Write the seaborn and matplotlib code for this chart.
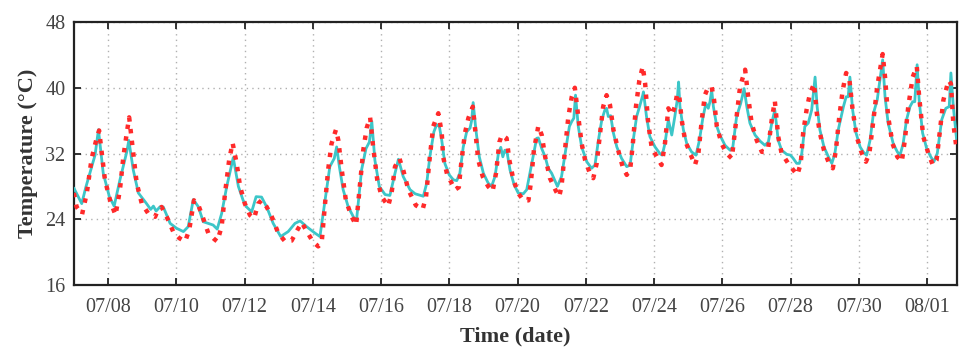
import numpy as np
import pandas as pd
import matplotlib
matplotlib.use("Agg")
import matplotlib.pyplot as plt
import matplotlib.dates as mdates
import seaborn as sns

# ---- data (days since 07/07 00:00, temperature in degC) ----
start_date = "2023-07-07"

sim_days = [0.00, 0.23, 0.35, 0.62, 0.72, 0.86, 1.04, 1.18, 1.35, 1.55, 1.61, 1.74, 1.89,
            2.13, 2.25, 2.33, 2.41, 2.52, 2.62, 2.82, 3.01, 3.21, 3.35, 3.50, 3.65, 3.79,
            4.08, 4.20, 4.33, 4.48, 4.67, 4.82, 4.96, 5.06, 5.21, 5.34, 5.50, 5.65, 5.84,
            6.06, 6.28, 6.48, 6.63, 6.82, 7.07, 7.21, 7.36, 7.50, 7.63, 7.70, 7.78, 7.89,
            8.04, 8.24, 8.29, 8.43, 8.56, 8.66, 8.73, 8.82, 8.95, 9.12, 9.26, 9.41, 9.51,
            9.65, 9.85, 10.00, 10.24, 10.34, 10.43, 10.55, 10.63, 10.71, 10.78, 10.87,
            11.00, 11.12, 11.22, 11.31, 11.41, 11.51, 11.61, 11.66, 11.70, 11.78, 11.88,
            12.00, 12.14, 12.24, 12.34, 12.44, 12.51, 12.57, 12.63, 12.70, 12.78, 12.90,
            13.02, 13.17, 13.27, 13.42, 13.56, 13.61, 13.71, 13.81, 13.90, 14.00, 14.17,
            14.29, 14.44, 14.52, 14.59, 14.65, 14.70, 14.78, 14.88, 15.03, 15.12, 15.17,
            15.27, 15.37, 15.47, 15.56, 15.61, 15.66, 15.73, 15.81, 15.91, 16.05, 16.20,
            16.30, 16.39, 16.49, 16.59, 16.67, 16.69, 16.78, 16.88, 17.03, 17.17, 17.24,
            17.32, 17.42, 17.52, 17.61, 17.68, 17.72, 17.76, 17.86, 17.96, 18.10, 18.23,
            18.33, 18.43, 18.52, 18.59, 18.64, 18.69, 18.74, 18.84, 18.93, 19.08, 19.23,
            19.31, 19.42, 19.54, 19.64, 19.72, 19.81, 19.96, 20.11, 20.25, 20.35, 20.45,
            20.54, 20.64, 20.74, 20.89, 21.00, 21.08, 21.18, 21.26, 21.33, 21.42, 21.52,
            21.62, 21.72, 21.78, 21.86, 21.98, 22.11, 22.21, 22.30, 22.40, 22.55, 22.63,
            22.69, 22.74, 22.82, 22.92, 23.04, 23.13, 23.23, 23.33, 23.43, 23.54, 23.70,
            23.77, 23.86, 24.01, 24.13, 24.21, 24.30, 24.40, 24.50, 24.58, 24.64, 24.71,
            24.77, 24.87, 24.99, 25.11, 25.20, 25.30, 25.43, 25.55, 25.65, 25.70, 25.77,
            25.87]
sim_temp = [27.8, 25.9, 27.9, 31.8, 34.9, 29.6, 26.75, 25.6, 28.8, 32.2, 33.6, 30.0, 27.2,
            25.9, 25.2, 25.6, 25.0, 25.5, 25.5, 23.5, 22.9, 22.5, 23.1, 26.4, 25.5, 23.7,
            23.3, 22.8, 24.7, 28.0, 31.5, 28.0, 26.3, 25.5, 24.9, 26.75, 26.7, 25.5, 23.5,
            21.9, 22.5, 23.5, 23.8, 23.1, 22.3, 21.9, 26.3, 30.4, 31.4, 32.8, 30.4, 27.6,
            25.5, 23.9, 24.2, 30.0, 32.6, 33.4, 35.9, 31.2, 28.0, 27.0, 26.9, 29.6, 31.3,
            29.2, 27.6, 27.1, 26.8, 28.4, 31.6, 34.65, 35.5, 35.3, 33.6, 30.8,
            29.4, 28.8, 28.7, 29.6, 32.8, 34.65, 35.1, 36.1, 38.2, 34.9, 31.6,
            29.6, 28.4, 28.0, 29.2, 32.0, 32.75, 31.6, 32.4, 32.0, 30.0, 28.2,
            27.2, 27.1, 27.6, 30.8, 33.85, 33.9, 32.6, 31.6, 30.2, 29.6, 28.0,
            29.2, 33.2, 35.3, 35.9, 36.3, 39.1, 35.3, 32.8, 31.0, 30.5, 30.2,
            30.6, 33.6, 36.1, 37.3, 37.5, 36.5, 36.6, 34.5, 32.8, 31.4, 30.4,
            30.6, 33.6, 36.5, 37.9, 39.1, 39.5, 36.5, 34.05, 32.8, 32.0, 31.8,
            33.2, 36.1, 34.25, 36.5, 38.5, 40.7, 37.7, 34.9, 33.2, 32.2, 31.8,
            33.6, 36.3, 38.1, 37.5, 38.3, 39.7, 37.7, 35.3, 34.25, 33.0, 32.4,
            32.8, 36.5, 38.1, 39.9, 37.7, 35.7, 34.25, 33.5, 33.0, 33.4, 35.7,
            37.3, 33.6, 32.4, 31.9, 31.8, 31.4, 30.8, 30.8, 32.0, 35.3, 35.7,
            37.3, 41.3, 37.7, 34.9, 32.8, 31.6, 30.8, 32.0, 34.9, 37.7, 38.9,
            38.9, 41.3, 37.3, 34.5, 32.8, 32.2, 31.8, 33.6, 36.9, 38.5, 43.4,
            38.9, 35.7, 33.2, 32.2, 31.8, 33.2, 36.1, 37.7, 38.3, 38.3, 42.8,
            38.5, 34.5, 32.6, 31.6, 31.0, 32.0, 36.1, 37.5, 37.7, 41.8, 37.7,
            33.6]

obs_days = [0.00, 0.08, 0.24, 0.38, 0.52, 0.67, 0.74, 0.91, 1.06, 1.22, 1.35, 1.45, 1.55,
            1.62, 1.74, 1.84, 1.99, 2.18, 2.38, 2.44, 2.57, 2.72, 2.91, 3.09, 3.26, 3.38,
            3.52, 3.65, 3.79, 3.94, 4.11, 4.20, 4.33, 4.43, 4.55, 4.65, 4.77, 4.87, 5.01,
            5.16, 5.28, 5.40, 5.50, 5.65, 5.80, 5.99, 6.19, 6.38, 6.55, 6.68, 6.80, 7.00,
            7.16, 7.26, 7.36, 7.45, 7.55, 7.68, 7.75, 7.85, 7.97, 8.14, 8.27, 8.38, 8.48,
            8.58, 8.68, 8.77, 8.89, 9.02, 9.21, 9.31, 9.41, 9.54, 9.65, 9.80, 10.02, 10.22,
            10.32, 10.41, 10.53, 10.68, 10.78, 10.82, 10.94, 11.07, 11.17, 11.28, 11.36,
            11.46, 11.56, 11.69, 11.75, 11.85, 11.98, 12.14, 12.27, 12.37, 12.47, 12.54,
            12.68, 12.76, 12.88, 13.02, 13.17, 13.32, 13.39, 13.48, 13.61, 13.71, 13.81,
            13.95, 14.13, 14.22, 14.29, 14.39, 14.49, 14.59, 14.68, 14.78, 14.88, 14.98,
            15.12, 15.22, 15.32, 15.42, 15.51, 15.61, 15.71, 15.81, 15.95, 16.08, 16.20,
            16.30, 16.38, 16.47, 16.57, 16.67, 16.74, 16.83, 16.93, 17.08, 17.22, 17.32,
            17.42, 17.52, 17.61, 17.68, 17.74, 17.81, 17.91, 18.06, 18.20, 18.30, 18.40,
            18.49, 18.59, 18.69, 18.76, 18.84, 18.98, 19.13, 19.28, 19.34, 19.42, 19.52,
            19.67, 19.76, 19.86, 20.01, 20.16, 20.25, 20.35, 20.45, 20.54, 20.64, 20.74,
            20.84, 20.93, 21.08, 21.20, 21.30, 21.37, 21.47, 21.57, 21.69, 21.77, 21.86,
            21.98, 22.11, 22.24, 22.33, 22.43, 22.53, 22.63, 22.72, 22.82, 22.94, 23.09,
            23.21, 23.31, 23.43, 23.54, 23.70, 23.77, 23.86, 23.99, 24.13, 24.26, 24.35,
            24.45, 24.58, 24.70, 24.77, 24.89, 25.04, 25.17, 25.28, 25.38, 25.48, 25.63,
            25.70, 25.77, 25.87]
obs_temp = [27.2, 25.5, 24.6, 27.2, 31.4, 33.9, 34.8, 28.8, 26.3, 24.5, 27.6, 31.6, 34.5,
            36.4, 32.0, 28.4, 25.9, 24.7, 24.3, 24.9, 25.5, 24.3, 22.5, 21.7, 21.3, 22.7,
            26.3, 25.7, 24.1, 22.3, 21.6, 21.3, 23.1, 27.2, 31.2, 33.3, 30.8, 28.0, 25.9,
            24.5, 24.1, 25.9, 26.3, 25.5, 24.3, 22.3, 21.3, 21.4, 22.7, 23.6, 22.7, 21.3,
            20.7, 21.1, 25.9, 30.0, 33.2, 34.9, 33.6, 30.0, 26.3, 24.3, 23.3, 28.0, 32.4,
            35.1, 36.4, 32.8, 28.8, 26.75, 25.6, 27.2, 30.4, 31.4, 30.0, 27.6, 25.7, 25.2,
            26.75, 30.8, 35.3, 36.9, 34.5, 31.6, 29.4, 28.4, 27.6, 27.9, 31.2,
            34.5, 36.3, 37.7, 35.3, 31.2, 29.2, 28.0, 27.4, 29.6, 33.4, 34.25,
            33.85, 31.2, 28.8, 27.2, 26.3, 26.3, 28.4, 32.4, 35.35, 34.25, 31.6,
            29.0, 27.4, 26.75, 28.0, 32.4, 36.5, 38.9, 40.0, 36.5, 33.2, 31.2,
            29.6, 29.0, 30.8, 34.5, 37.7, 39.1, 37.9, 34.9, 32.4, 30.4, 29.4,
            30.0, 33.2, 37.7, 40.9, 42.6, 40.5, 35.7, 32.8, 31.6, 30.6, 33.2,
            37.5, 36.7, 37.7, 39.3, 39.0, 36.1, 33.6, 32.0, 30.6, 32.0, 36.1,
            39.1, 40.1, 40.1, 38.5, 35.3, 33.2, 32.0, 31.4, 33.6, 36.5, 40.1,
            42.2, 38.9, 35.7, 33.6, 32.2, 32.2, 32.8, 36.1, 38.4, 34.05, 32.0,
            31.4, 30.8, 30.0, 29.4, 30.8, 34.5, 37.3, 39.3, 40.5, 36.9, 34.5,
            32.4, 31.0, 30.2, 32.4, 36.5, 39.7, 41.8, 41.2, 37.3, 34.05, 32.0,
            31.0, 32.0, 36.1, 40.1, 44.1, 41.3, 36.5, 33.2, 31.6, 31.0, 33.6,
            37.7, 41.3, 42.6, 38.9, 34.05, 32.0, 30.6, 31.2, 34.9, 38.5, 40.9,
            40.5, 35.7, 32.4]

x_ticklabels = ["07/08", "07/10", "07/12", "07/14", "07/16", "07/18", "07/20",
                "07/22", "07/24", "07/26", "07/28", "07/30", "08/01"]
y_ticks = [16, 24, 32, 40, 48]

# ---- build frames ----
t0 = pd.Timestamp(start_date)
sim_df = pd.DataFrame({"time": t0 + pd.to_timedelta(sim_days, unit="D"), "temp": sim_temp})
obs_df = pd.DataFrame({"time": t0 + pd.to_timedelta(obs_days, unit="D"), "temp": obs_temp})

sns.set_style("ticks")
plt.rcParams["font.family"] = ["Liberation Serif", "DejaVu Serif"]

fig = plt.figure(figsize=(9.62, 3.51), dpi=100)
ax = fig.add_axes([0.0768, 0.188, 0.9177, 0.7493])

sns.lineplot(data=sim_df, x="time", y="temp", ax=ax, color="#3cc6c8", linewidth=2.0,
             zorder=3)
sns.lineplot(data=obs_df, x="time", y="temp", ax=ax, color="#ff2a2a", linewidth=3.2,
             linestyle=":", zorder=4)

ax.set_xlim(t0, t0 + pd.Timedelta(days=25.87))
ax.set_ylim(16, 48)
ax.set_yticks(y_ticks)
tick_dates = [pd.Timestamp(f"2023-{s.replace('/', '-')}") for s in x_ticklabels]
ax.set_xticks(tick_dates)
ax.set_xticklabels(x_ticklabels)

ax.grid(True, color="#b0b0b0", linestyle=(0, (1, 3)), linewidth=1.0)
ax.tick_params(direction="in", length=5, width=1.3, top=True, right=True,
               labelsize=14.5, colors="#222222", labelcolor="#444444")
ax.tick_params(axis="x", pad=9)
ax.tick_params(axis="y", pad=6)
for sp in ax.spines.values():
    sp.set_visible(True)
    sp.set_linewidth(1.6)
    sp.set_color("#222222")

ax.set_xlabel("Time (date)", fontsize=16, fontweight="bold", color="#333333", labelpad=7)
ax.set_ylabel("Temperature (°C)", fontsize=16, fontweight="bold", color="#333333", labelpad=5)

fig.savefig("out.png", dpi=100)
